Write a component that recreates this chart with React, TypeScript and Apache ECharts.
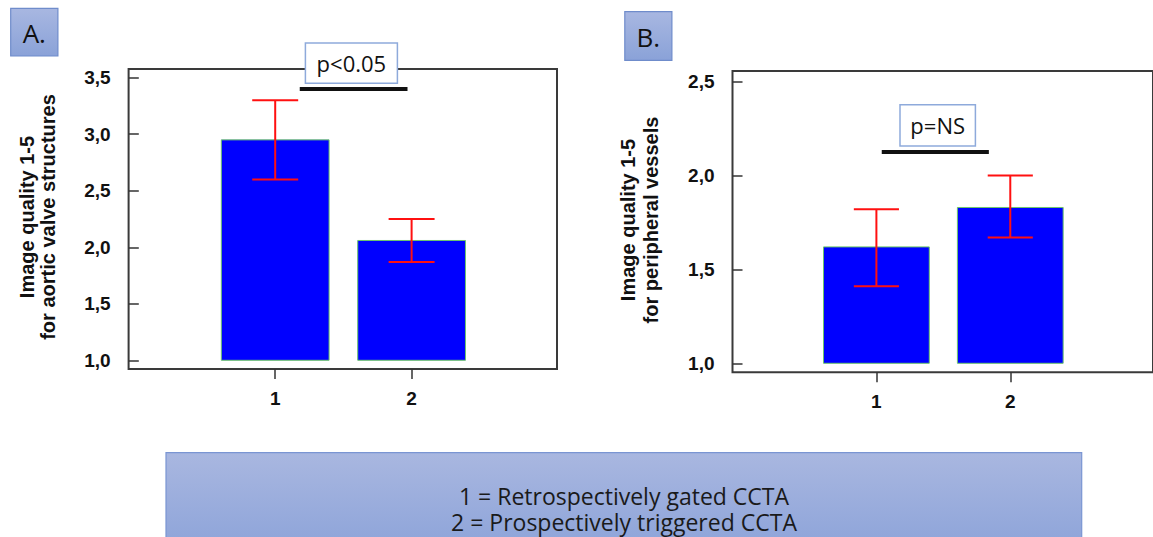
import React, { useEffect, useRef } from "react";
import * as echarts from "echarts";

// ---- data ----
const categories = [1, 2];
const aValues = [2.95, 2.06];
const aErrLow = [2.6, 1.87];
const aErrHigh = [3.3, 2.25];
const bValues = [1.62, 1.83];
const bErrLow = [1.41, 1.67];
const bErrHigh = [1.82, 2.0];
const aYTicks = [1.0, 1.5, 2.0, 2.5, 3.0, 3.5];
const bYTicks = [1.0, 1.5, 2.0, 2.5];
const aSigLine = [
  [1.18, 3.4],
  [1.97, 3.4],
];
const bSigLine = [
  [1.04, 2.125],
  [1.84, 2.125],
];
const aTitle = ["Image quality 1-5", "for aortic valve structures"];
const bTitle = ["Image quality 1-5", "for peripheral vessels"];
const aPText = "p<0.05";
const bPText = "p=NS";
const panelLabels = ["A.", "B."];
const legendLines = ["1 = Retrospectively gated CCTA", "2 = Prospectively triggered CCTA"];

const BAR_W = 0.79;
const CAP_W = 0.337;
const AXIS_FONT = "'Liberation Sans', Arial, sans-serif";
const OFFICE_FONT = "'Open Sans', sans-serif";

const barRender = (params: any, api: any) => {
  const x = api.value(0);
  const v = api.value(1);
  const top = api.coord([x, v]);
  const base = api.coord([x, 1]);
  const w = api.size([BAR_W, 0])[0];
  return {
    type: "rect",
    shape: { x: top[0] - w / 2, y: top[1], width: w, height: base[1] - top[1] },
    style: { fill: "#0000FF", stroke: "#6CC46C", lineWidth: 1 },
  };
};

const errRender = (params: any, api: any) => {
  const x = api.value(0);
  const lo = api.coord([x, api.value(1)]);
  const hi = api.coord([x, api.value(2)]);
  const hw = api.size([CAP_W, 0])[0] / 2;
  const st = { stroke: "#FF1010", lineWidth: 2 };
  return {
    type: "group",
    children: [
      { type: "line", shape: { x1: lo[0], y1: lo[1], x2: hi[0], y2: hi[1] }, style: st },
      { type: "line", shape: { x1: hi[0] - hw, y1: hi[1], x2: hi[0] + hw, y2: hi[1] }, style: st },
      { type: "line", shape: { x1: lo[0] - hw, y1: lo[1], x2: lo[0] + hw, y2: lo[1] }, style: st },
    ],
  };
};

const fmtY = (v: number) => v.toFixed(1).replace(".", ",");

function makeXAxis(gridIndex: number) {
  return {
    type: "value",
    gridIndex,
    min: -0.0748,
    max: 3.066,
    axisLine: { show: false },
    splitLine: { show: false },
    axisTick: {
      show: true,
      customValues: categories,
      length: 10,
      lineStyle: { color: "#333", width: 1.5 },
    },
    axisLabel: {
      customValues: categories,
      formatter: (v: number) => String(v),
      margin: 20,
      color: "#111",
      fontWeight: "bold",
      fontSize: 19,
      fontFamily: AXIS_FONT,
    },
  };
}

function makeYAxis(gridIndex: number, min: number, max: number, ticks: number[]) {
  return {
    type: "value",
    gridIndex,
    min,
    max,
    axisLine: { show: false },
    splitLine: { show: false },
    axisTick: {
      show: true,
      customValues: ticks,
      length: 10,
      lineStyle: { color: "#333", width: 1.5 },
    },
    axisLabel: {
      customValues: ticks,
      formatter: fmtY,
      margin: 18,
      color: "#111",
      fontWeight: "bold",
      fontSize: 19,
      fontFamily: AXIS_FONT,
    },
  };
}

const labelGradient = () =>
  new echarts.graphic.LinearGradient(0, 0, 0, 1, [
    { offset: 0, color: "#A8B7E1" },
    { offset: 1, color: "#8AA2D8" },
  ]);

function textEl(x: number, y: number, text: string, size: number, extra: any = {}) {
  return {
    type: "text",
    z: 101,
    x,
    y,
    ...extra,
    style: {
      text,
      align: "center",
      verticalAlign: "middle",
      fontSize: size,
      fontFamily: OFFICE_FONT,
      fill: "#111",
      ...(extra.style || {}),
    },
  };
}

export default function App() {
  const ref = useRef<HTMLDivElement>(null);

  useEffect(() => {
    if (!ref.current) return;
    const chart = echarts.init(ref.current, null, { renderer: "svg" });

    const titleStyle = {
      fontWeight: "bold",
      fontFamily: AXIS_FONT,
      fontSize: 20,
      lineHeight: 21,
    };

    const option: any = {
      animation: false,
      backgroundColor: "#FFFFFF",
      grid: [
        {
          left: 128.6,
          top: 69,
          width: 428.4,
          height: 300,
          show: true,
          borderColor: "#3A3A3A",
          borderWidth: 2,
          backgroundColor: "transparent",
        },
        {
          left: 732.5,
          top: 71,
          width: 428,
          height: 301.3,
          show: true,
          borderColor: "#3A3A3A",
          borderWidth: 2,
          backgroundColor: "transparent",
        },
      ],
      xAxis: [makeXAxis(0), makeXAxis(1)],
      yAxis: [makeYAxis(0, 0.923, 3.577, aYTicks), makeYAxis(1, 0.952, 2.557, bYTicks)],
      series: [
        {
          type: "custom",
          xAxisIndex: 0,
          yAxisIndex: 0,
          renderItem: barRender,
          encode: { x: 0, y: 1 },
          data: categories.map((c, i) => [c, aValues[i]]),
        },
        {
          type: "custom",
          xAxisIndex: 0,
          yAxisIndex: 0,
          renderItem: errRender,
          encode: { x: 0, y: [1, 2] },
          data: categories.map((c, i) => [c, aErrLow[i], aErrHigh[i]]),
          z: 3,
        },
        {
          type: "line",
          xAxisIndex: 0,
          yAxisIndex: 0,
          data: aSigLine,
          symbol: "none",
          lineStyle: { color: "#111", width: 4 },
          z: 4,
        },
        {
          type: "custom",
          xAxisIndex: 1,
          yAxisIndex: 1,
          renderItem: barRender,
          encode: { x: 0, y: 1 },
          data: categories.map((c, i) => [c, bValues[i]]),
        },
        {
          type: "custom",
          xAxisIndex: 1,
          yAxisIndex: 1,
          renderItem: errRender,
          encode: { x: 0, y: [1, 2] },
          data: categories.map((c, i) => [c, bErrLow[i], bErrHigh[i]]),
          z: 3,
        },
        {
          type: "line",
          xAxisIndex: 1,
          yAxisIndex: 1,
          data: bSigLine,
          symbol: "none",
          lineStyle: { color: "#111", width: 4 },
          z: 4,
        },
      ],
      graphic: [
        // panel labels
        {
          type: "rect",
          z: 100,
          shape: { x: 10.7, y: 8.3, width: 47.2, height: 47.7 },
          style: { fill: labelGradient(), stroke: "#6F8CCB", lineWidth: 1.2 },
        },
        textEl(34.3, 32.5, panelLabels[0], 26),
        {
          type: "rect",
          z: 100,
          shape: { x: 624.8, y: 11.7, width: 47.1, height: 48.6 },
          style: { fill: labelGradient(), stroke: "#6F8CCB", lineWidth: 1.2 },
        },
        textEl(648.3, 36.5, panelLabels[1], 26),
        // p boxes
        {
          type: "rect",
          z: 100,
          shape: { x: 305.4, y: 43, width: 92, height: 40.3 },
          style: { fill: "#FFFFFF", stroke: "#8EAADB", lineWidth: 1.5 },
        },
        textEl(351.4, 63, aPText, 22),
        {
          type: "rect",
          z: 100,
          shape: { x: 900, y: 104.7, width: 75.4, height: 41.3 },
          style: { fill: "#FFFFFF", stroke: "#8EAADB", lineWidth: 1.5 },
        },
        textEl(937.7, 125.3, bPText, 22),
        // y titles
        textEl(37, 217, aTitle.join("\n"), 20, { rotation: Math.PI / 2, style: titleStyle }),
        textEl(639.5, 220, bTitle.join("\n"), 20, {
          rotation: Math.PI / 2,
          style: { ...titleStyle, lineHeight: 23 },
        }),
        // legend box
        {
          type: "rect",
          z: 100,
          shape: { x: 166, y: 452.7, width: 915.7, height: 100 },
          style: {
            fill: new echarts.graphic.LinearGradient(0, 0, 0, 1, [
              { offset: 0, color: "#A9B7E0" },
              { offset: 1, color: "#8CA3D9" },
            ]),
            stroke: "#7A95D2",
            lineWidth: 1.2,
          },
        },
        textEl(624, 496, legendLines[0], 23, { style: { fill: "#1A1A1A", lineHeight: 24 } }),
        textEl(624, 522, legendLines[1], 23, { style: { fill: "#1A1A1A", lineHeight: 24 } }),
      ],
    };

    chart.setOption(option);
    return () => chart.dispose();
  }, []);

  return (
    <div
      ref={ref}
      style={{ position: "absolute", left: 0, top: 0, width: 1153, height: 537 }}
    />
  );
}
